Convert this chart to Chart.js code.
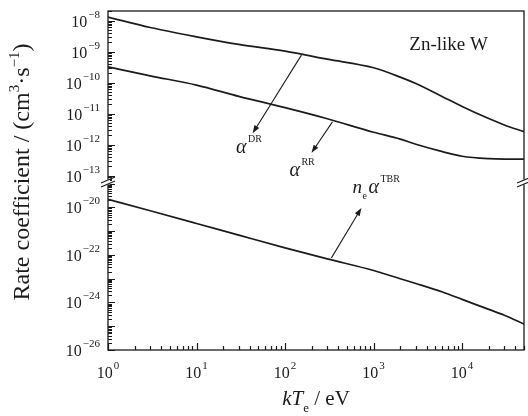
<!DOCTYPE html>
<html>
<head>
<meta charset="utf-8">
<script src="https://cdn.jsdelivr.net/npm/chart.js@4/dist/chart.umd.min.js"></script>
<style>
  html, body { margin: 0; padding: 0; background: #fff; }
  #wrap { width: 528px; height: 416px; }
</style>
</head>
<body>
<div id="wrap"><canvas id="chart" width="528" height="416"></canvas></div>
<script>
// electron temperature kT_e (eV)
const kT = [1, 3, 10, 30, 100, 300, 1000, 2000, 3000, 6000, 10000, 20000, 30000, 50000];
// rate coefficients (cm^3 s^-1)
const alphaDR = [1.3e-8, 6.0e-9, 3.0e-9, 1.7e-9, 1.03e-9, 5.7e-10, 3.0e-10, 1.5e-10, 9.3e-11, 3.5e-11, 1.7e-11, 6.9e-12, 4.3e-12, 2.6e-12];
const alphaRR = [3.2e-10, 1.65e-10, 8.3e-11, 3.6e-11, 1.55e-11, 6.8e-12, 2.5e-12, 1.5e-12, 1.02e-12, 5.9e-13, 4.2e-13, 3.5e-13, 3.4e-13, 3.4e-13];
const neAlphaTBR = [2.2e-20, 7.2e-21, 2.1e-21, 6.8e-22, 1.98e-22, 6.8e-23, 2.2e-23, 1.0e-23, 6.3e-24, 2.75e-24, 1.35e-24, 5.1e-25, 2.9e-25, 1.23e-25];

// decade exponents that carry a label
const xLabelExp = [0, 1, 2, 3, 4];
const topLabelExp = [-8, -9, -10, -11, -12, -13];
const botLabelExp = [-20, -22, -24, -26];

const FONT = '"Liberation Serif", "Times New Roman", serif';
const INK = '#1b1b1b';

// annotation arrows, in data coordinates
const arrows = [
  { axis: 'yTop', from: [153, 7.7e-10], to: [43, 2.3e-12] },
  { axis: 'yTop', from: [343, 5.4e-12], to: [199, 5.4e-13] },
  { axis: 'yBot', from: [334, 7.5e-23], to: [728, 9.5e-21] }
];

// 1..9 x 10^n marks inside a scale's range
function logMarks(scale) {
  const marks = [];
  const lo = Math.floor(Math.log10(scale.min));
  const hi = Math.ceil(Math.log10(scale.max));
  for (let e = lo; e <= hi; e++) {
    for (let m = 1; m <= 9; m++) {
      const v = m * Math.pow(10, e);
      if (v >= scale.min * 0.999 && v <= scale.max * 1.001) marks.push({ value: v, major: m === 1 });
    }
  }
  return marks;
}

function powLabel(ctx, exp, x, y, align) {
  const base = '10';
  const sup = String(exp).replace('-', '\u2212');
  ctx.font = '16px ' + FONT;
  const wb = ctx.measureText(base).width;
  ctx.font = '11px ' + FONT;
  const ws = ctx.measureText(sup).width;
  let x0 = x;
  if (align === 'right') x0 = x - wb - ws - 1;
  if (align === 'center') x0 = x - (wb + ws + 1) / 2;
  ctx.textAlign = 'left';
  ctx.textBaseline = 'alphabetic';
  ctx.font = '16px ' + FONT;
  ctx.fillText(base, x0, y);
  ctx.font = '11px ' + FONT;
  ctx.fillText(sup, x0 + wb + 1, y - 9);
}

function arrow(ctx, x1, y1, x2, y2) {
  const a = Math.atan2(y2 - y1, x2 - x1);
  const len = 8, hw = 2.8;
  ctx.beginPath();
  ctx.moveTo(x1, y1);
  ctx.lineTo(x2 - Math.cos(a) * len * 0.8, y2 - Math.sin(a) * len * 0.8);
  ctx.stroke();
  ctx.beginPath();
  ctx.moveTo(x2, y2);
  ctx.lineTo(x2 - Math.cos(a) * len - Math.sin(a) * hw, y2 - Math.sin(a) * len + Math.cos(a) * hw);
  ctx.lineTo(x2 - Math.cos(a) * len + Math.sin(a) * hw, y2 - Math.sin(a) * len - Math.cos(a) * hw);
  ctx.closePath();
  ctx.fill();
}

const framePlugin = {
  id: 'frame',
  afterDraw(chart) {
    const ctx = chart.ctx;
    const area = chart.chartArea;
    const sx = chart.scales.x, st = chart.scales.yTop, sb = chart.scales.yBot;
    ctx.save();
    ctx.strokeStyle = INK;
    ctx.fillStyle = INK;

    // frame
    ctx.lineWidth = 1.3;
    ctx.strokeRect(area.left, area.top, area.right - area.left, area.bottom - area.top);

    // inward ticks on the left and bottom axes
    ctx.lineWidth = 1.2;
    ctx.beginPath();
    [st, sb].forEach(s => {
      logMarks(s).forEach(t => {
        const y = Math.round(s.getPixelForValue(t.value)) + 0.5;
        if (y < s.top - 0.5 || y > s.bottom + 0.5) return;
        const len = t.major ? 7 : 4;
        ctx.moveTo(area.left, y);
        ctx.lineTo(area.left + len, y);
      });
    });
    logMarks(sx).forEach(t => {
      const x = Math.round(sx.getPixelForValue(t.value)) + 0.5;
      const len = t.major ? 7 : 4;
      ctx.moveTo(x, area.bottom);
      ctx.lineTo(x, area.bottom - len);
    });
    ctx.stroke();

    // tick labels
    topLabelExp.forEach(e => powLabel(ctx, e, area.left - 8, st.getPixelForValue(Math.pow(10, e)) + 6, 'right'));
    botLabelExp.forEach(e => powLabel(ctx, e, area.left - 8, sb.getPixelForValue(Math.pow(10, e)) + 6, 'right'));
    xLabelExp.forEach(e => powLabel(ctx, e, sx.getPixelForValue(Math.pow(10, e)), area.bottom + 28, 'center'));

    // axis breaks
    const yb = st.bottom;
    [area.left, area.right].forEach(xb => {
      ctx.fillStyle = '#fff';
      ctx.fillRect(xb - 2, yb - 2.5, 4, 5);
      ctx.strokeStyle = INK;
      ctx.lineWidth = 1.2;
      ctx.beginPath();
      ctx.moveTo(xb - 7, yb + 1); ctx.lineTo(xb + 7, yb - 5);
      ctx.moveTo(xb - 7, yb + 5); ctx.lineTo(xb + 7, yb - 1);
      ctx.stroke();
    });
    ctx.fillStyle = INK;

    // annotation arrows
    ctx.lineWidth = 1.1;
    arrows.forEach(a => {
      const s = chart.scales[a.axis];
      arrow(ctx, sx.getPixelForValue(a.from[0]), s.getPixelForValue(a.from[1]),
        sx.getPixelForValue(a.to[0]), s.getPixelForValue(a.to[1]));
    });

    // curve labels
    ctx.textAlign = 'left';
    ctx.textBaseline = 'alphabetic';
    let px = sx.getPixelForValue(27.9), py = st.getPixelForValue(5.3e-13);
    ctx.font = 'italic 20px ' + FONT; ctx.fillText('\u03b1', px, py);
    ctx.font = '10px ' + FONT; ctx.fillText('DR', px + 12, py - 11);
    px = sx.getPixelForValue(112); py = st.getPixelForValue(9.6e-14);
    ctx.font = 'italic 20px ' + FONT; ctx.fillText('\u03b1', px, py);
    ctx.font = '10px ' + FONT; ctx.fillText('RR', px + 12, py - 11);
    px = sx.getPixelForValue(576); py = sb.getPixelForValue(4.1e-20);
    ctx.font = 'italic 19px ' + FONT; ctx.fillText('n', px, py);
    ctx.font = '10px ' + FONT; ctx.fillText('e', px + 10, py + 6);
    ctx.font = 'italic 20px ' + FONT; ctx.fillText('\u03b1', px + 16, py);
    ctx.font = '10px ' + FONT; ctx.fillText('TBR', px + 28, py - 11);

    ctx.font = '19px ' + FONT;
    ctx.fillText('Zn-like W', sx.getPixelForValue(2530), st.getPixelForValue(1.1e-9));

    // y title
    ctx.save();
    ctx.translate(29, 172);
    ctx.rotate(-Math.PI / 2);
    const parts = [
      { t: 'Rate coefficient / (cm', s: 24, dy: 0 },
      { t: '3', s: 15, dy: -10 },
      { t: '\u00b7s', s: 24, dy: 0 },
      { t: '\u22121', s: 15, dy: -10 },
      { t: ')', s: 24, dy: 0 }
    ];
    let total = 0;
    parts.forEach(p => { ctx.font = p.s + 'px ' + FONT; p.w = ctx.measureText(p.t).width; total += p.w; });
    let cx = -total / 2;
    parts.forEach(p => { ctx.font = p.s + 'px ' + FONT; ctx.fillText(p.t, cx, p.dy); cx += p.w; });
    ctx.restore();

    // x title
    const xp = [
      { t: 'kT', f: 'italic 21px ', dy: 0 },
      { t: 'e', f: '13px ', dy: 7 },
      { t: ' / eV', f: '21px ', dy: 0 }
    ];
    let xt = 0;
    xp.forEach(p => { ctx.font = p.f + FONT; p.w = ctx.measureText(p.t).width; xt += p.w; });
    let xx = (area.left + area.right) / 2 - xt / 2;
    xp.forEach(p => { ctx.font = p.f + FONT; ctx.fillText(p.t, xx, 405 + p.dy); xx += p.w; });

    ctx.restore();
  }
};

const line = (label, values, axis) => ({
  label,
  data: kT.map((x, i) => ({ x, y: values[i] })),
  yAxisID: axis,
  borderColor: INK,
  borderWidth: 1.7,
  pointRadius: 0,
  fill: false,
  cubicInterpolationMode: 'monotone'
});

new Chart(document.getElementById('chart').getContext('2d'), {
  type: 'line',
  data: {
    datasets: [
      line('alpha DR', alphaDR, 'yTop'),
      line('alpha RR', alphaRR, 'yTop'),
      line('ne alpha TBR', neAlphaTBR, 'yBot')
    ]
  },
  options: {
    responsive: false,
    animation: false,
    layout: { padding: { left: 108, right: 4, top: 11, bottom: 66 } },
    plugins: { legend: { display: false }, tooltip: { enabled: false } },
    scales: {
      x: { type: 'logarithmic', min: 1, max: 5e4, display: false },
      // stacked left axes are laid out in reverse order: yBot first puts yTop on top
      yBot: { type: 'logarithmic', position: 'left', stack: 'y', stackWeight: 168,
        min: 1e-26, max: 1.17e-19, display: false },
      yTop: { type: 'logarithmic', position: 'left', stack: 'y', stackWeight: 171,
        min: 6.2e-14, max: 2.04e-8, display: false }
    }
  },
  plugins: [framePlugin]
});
</script>
</body>
</html>
